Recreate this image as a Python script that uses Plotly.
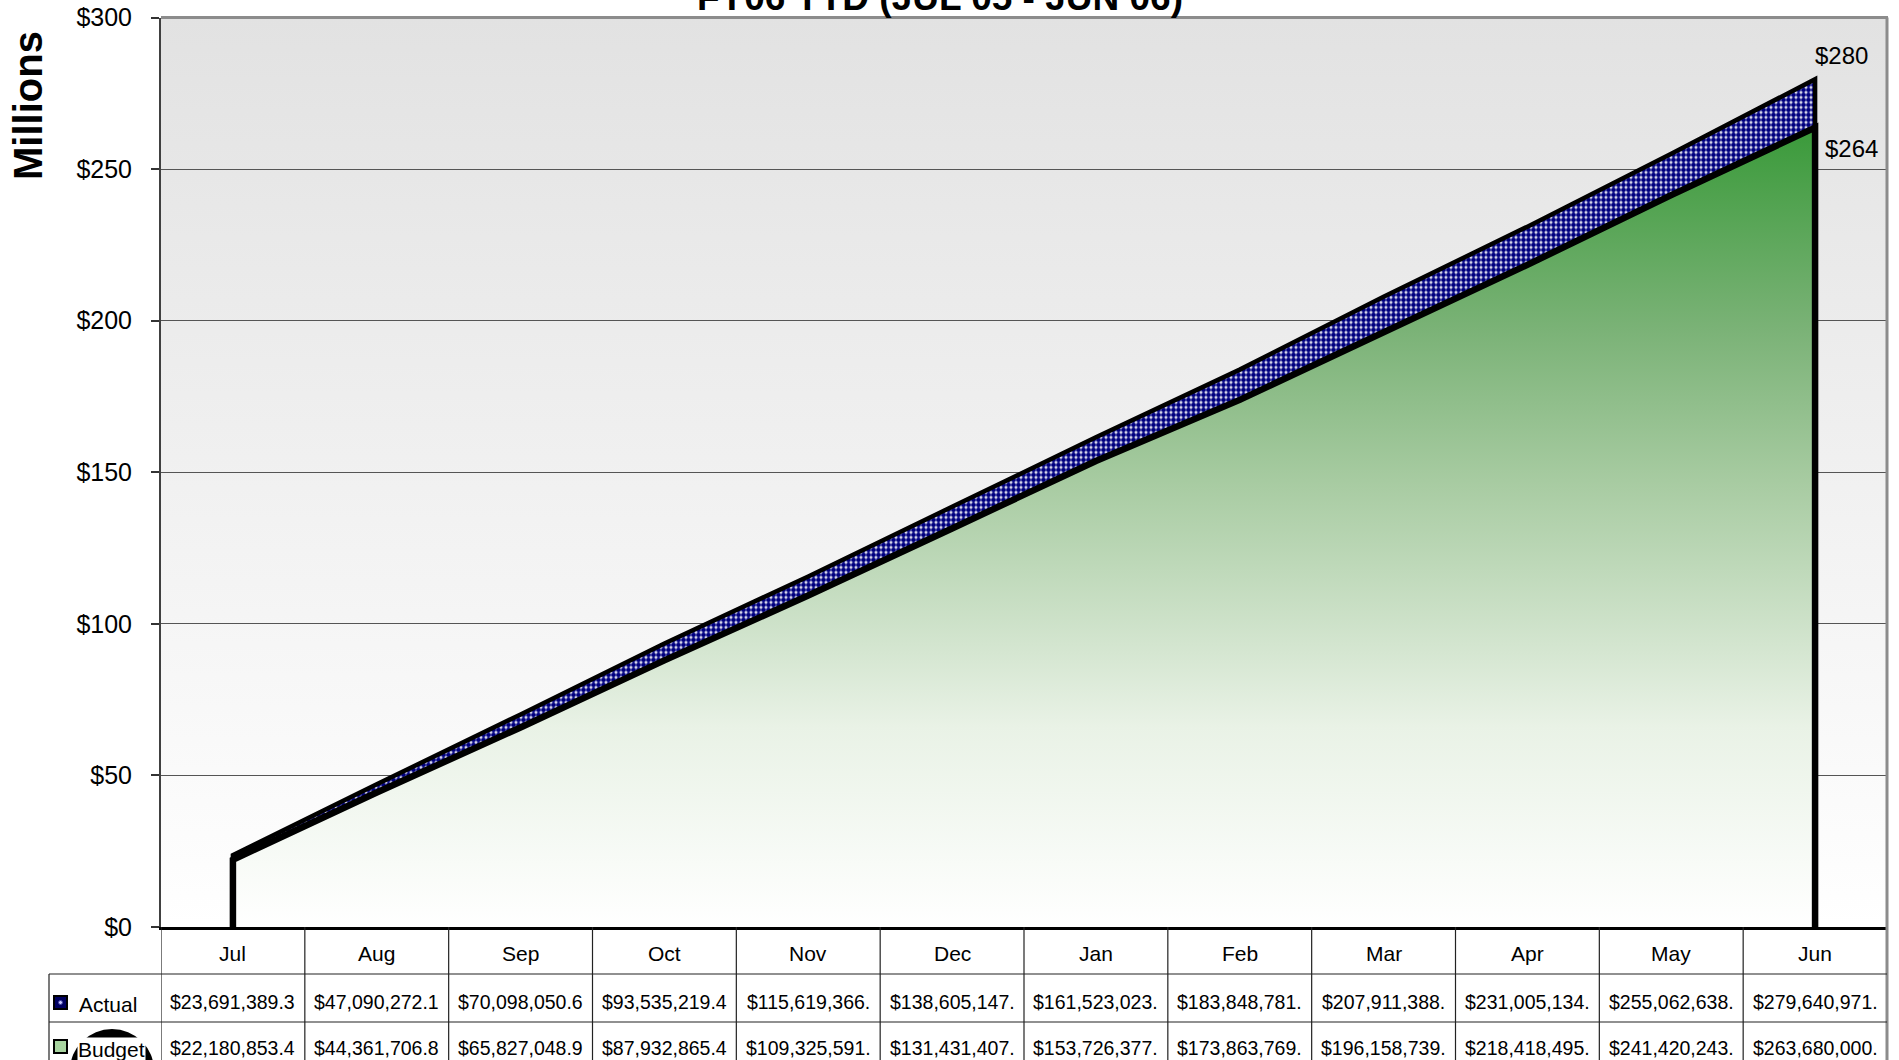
import base64
import plotly.graph_objects as go

W, H = 1899, 1060

# ---------------- data ----------------
months = ["Jul", "Aug", "Sep", "Oct", "Nov", "Dec", "Jan", "Feb", "Mar", "Apr", "May", "Jun"]
actual = [23691389.3, 47090272.1, 70098050.6, 93535219.4, 115619366.0, 138605147.0,
          161523023.0, 183848781.0, 207911388.0, 231005134.0, 255062638.0, 279640971.0]
budget = [22180853.4, 44361706.8, 65827048.9, 87932865.4, 109325591.0, 131431407.0,
          153726377.0, 173863769.0, 196158739.0, 218418495.0, 241420243.0, 263680000.0]
series_names = ["Actual", "Budget"]
y_ticks = [0, 50, 100, 150, 200, 250, 300]
y_tick_labels = ["$0", "$50", "$100", "$150", "$200", "$250", "$300"]
title_text = "FY06 YTD (JUL 05 - JUN 06)"
y_title = "Millions"

FONT = "Liberation Sans, Arial, sans-serif"


def px(x):
    return x / W


def py(y):
    return (H - y) / H


# plot area in pixels
PL, PR, PT, PB = 161, 1887, 17.5, 927

idx = list(range(len(months)))
act_m = [v / 1e6 for v in actual]
bud_m = [v / 1e6 for v in budget]


def fmt(v):
    return ("${:,.1f}".format(v))[:13]


fig = go.Figure()

# Actual area (checkered navy pattern), closed polygon down to zero
fig.add_trace(go.Scatter(
    x=[idx[0]] + idx + [idx[-1]],
    y=[0] + act_m + [0],
    mode="lines", fill="toself", fillcolor="white",
    fillpattern=dict(shape=".", fgcolor="#000080", bgcolor="white", size=5,
                     solidity=0.76, fgopacity=1),
    line=dict(color="black", width=4.5),
    name=series_names[0], hoverinfo="skip", showlegend=False,
))

# Budget area (green vertical gradient)
fig.add_trace(go.Scatter(
    x=[idx[0]] + idx + [idx[-1]],
    y=[0] + bud_m + [0],
    mode="lines", fill="toself",
    fillgradient=dict(type="vertical", colorscale=[
        [0.0, "#ffffff"], [0.25, "#e9f2e6"], [0.55, "#a9cca3"],
        [0.75, "#7ab276"], [1.0, "#3a9a3a"]]),
    line=dict(color="black", width=6.5),
    name=series_names[1], hoverinfo="skip", showlegend=False,
))

# background gradient image
svg = ('<svg xmlns="http://www.w3.org/2000/svg" width="100" height="100" viewBox="0 0 100 100" '
       'preserveAspectRatio="none"><defs><linearGradient id="g" x1="0" y1="0" x2="0" y2="1">'
       '<stop offset="0" stop-color="#e2e2e2"/><stop offset="1" stop-color="#ffffff"/>'
       '</linearGradient></defs><rect width="100" height="100" fill="url(#g)"/></svg>')
src = "data:image/svg+xml;base64," + base64.b64encode(svg.encode()).decode()

shapes = []
# top and right gray borders of the plot
shapes.append(dict(type="line", xref="paper", yref="paper", x0=px(PL), x1=px(PR + 1),
                   y0=py(PT), y1=py(PT), line=dict(color="#8c8c8c", width=3)))
shapes.append(dict(type="line", xref="paper", yref="paper", x0=px(PR), x1=px(PR),
                   y0=py(PT), y1=0, line=dict(color="#8c8c8c", width=3)))

# table vertical lines at category boundaries
for i in range(len(months)):
    shapes.append(dict(type="line", xref="x", yref="paper", x0=i - 0.5, x1=i - 0.5,
                       y0=py(PB), y1=0, line=dict(color="#222222", width=1.2)))
# legend column left border
shapes.append(dict(type="line", xref="paper", yref="paper", x0=px(49), x1=px(49),
                   y0=py(974), y1=0, line=dict(color="#222222", width=1.2)))
# table horizontal lines
for yy in (974, 1022):
    shapes.append(dict(type="line", xref="paper", yref="paper", x0=px(49), x1=px(PR),
                       y0=py(yy), y1=py(yy), line=dict(color="#222222", width=1.2)))

# legend icons
shapes.append(dict(type="rect", xref="paper", yref="paper", x0=px(54), x1=px(67),
                   y0=py(1009), y1=py(996), fillcolor="#000060",
                   line=dict(color="black", width=2)))
shapes.append(dict(type="circle", xref="paper", yref="paper", x0=px(58.5), x1=px(62.5),
                   y0=py(1004.5), y1=py(1000.5), fillcolor="#c8c8ff",
                   line=dict(color="#4040a0", width=1)))
shapes.append(dict(type="rect", xref="paper", yref="paper", x0=px(54), x1=px(67),
                   y0=py(1053), y1=py(1040), fillcolor="#a8d4a0",
                   line=dict(color="black", width=2)))
# black disk over the legend
shapes.append(dict(type="circle", xref="paper", yref="paper", x0=px(70), x1=px(154),
                   y0=py(1112), y1=py(1029), fillcolor="black",
                   line=dict(color="black", width=0)))

annotations = []
# title (cut off at top)
annotations.append(dict(text="<b>" + title_text + "</b>", xref="paper", yref="paper",
                        x=px(940), y=1.0, yshift=3, xanchor="center", yanchor="middle",
                        showarrow=False, font=dict(family=FONT, size=37, color="black")))
# y-axis title
annotations.append(dict(text="<b>" + y_title + "</b>", xref="paper", yref="paper",
                        x=px(28), y=py(106), textangle=-90, xanchor="center",
                        yanchor="middle", showarrow=False,
                        font=dict(family=FONT, size=40, color="black")))
# month labels and values
for i, m in enumerate(months):
    annotations.append(dict(text=m, xref="x", yref="paper", x=i, y=py(953),
                            xanchor="center", yanchor="middle", showarrow=False,
                            font=dict(family=FONT, size=21, color="black")))
    annotations.append(dict(text=fmt(actual[i]), xref="x", yref="paper", x=i, y=py(1002),
                            xanchor="center", yanchor="middle", showarrow=False,
                            font=dict(family=FONT, size=19.5, color="black")))
    annotations.append(dict(text=fmt(budget[i]), xref="x", yref="paper", x=i, y=py(1048),
                            xanchor="center", yanchor="middle", showarrow=False,
                            font=dict(family=FONT, size=19.5, color="black")))
# legend labels
annotations.append(dict(text=series_names[0], xref="paper", yref="paper", x=px(77),
                        y=py(1004), xanchor="left", yanchor="middle", showarrow=False,
                        font=dict(family=FONT, size=21, color="black")))
annotations.append(dict(text=series_names[1], xref="paper", yref="paper", x=px(77),
                        y=py(1049), xanchor="left", yanchor="middle", showarrow=False,
                        bgcolor="white", borderpad=0,
                        font=dict(family=FONT, size=21, color="black")))
# end-point data labels
annotations.append(dict(text="${:.0f}".format(act_m[-1]), xref="x", yref="y",
                        x=idx[-1], y=act_m[-1], xshift=26, yshift=24, showarrow=False,
                        font=dict(family=FONT, size=24, color="black")))
annotations.append(dict(text="${:.0f}".format(bud_m[-1]), xref="x", yref="y",
                        x=idx[-1], y=bud_m[-1], xshift=36, yshift=-21, showarrow=False,
                        font=dict(family=FONT, size=24, color="black")))

fig.update_layout(
    width=W, height=H,
    margin=dict(l=0, r=0, t=0, b=0, pad=0, autoexpand=False),
    paper_bgcolor="white",
    plot_bgcolor="rgba(0,0,0,0)",
    showlegend=False,
    shapes=shapes,
    annotations=annotations,
    images=[dict(source=src, xref="paper", yref="paper", x=px(PL), y=py(PT),
                 sizex=px(PR) - px(PL), sizey=py(PT) - py(PB), sizing="stretch",
                 xanchor="left", yanchor="top", layer="below")],
    xaxis=dict(domain=[px(PL), px(PR)], range=[-0.5, len(months) - 0.5],
               showticklabels=False, showgrid=False, zeroline=False, ticks="",
               automargin=False,
               showline=True, linecolor="black", linewidth=3, fixedrange=True),
    yaxis=dict(domain=[py(PB), py(PT)], range=[0, 300], tickvals=y_ticks,
               ticktext=y_tick_labels, ticks="outside", ticklen=8, tickwidth=1.5,
               tickcolor="#333333", ticklabelstandoff=14, automargin=False,
               showgrid=True, gridcolor="#555555", gridwidth=1, zeroline=False,
               showline=True, linecolor="#404040", linewidth=2,
               tickfont=dict(family=FONT, size=25, color="black"), fixedrange=True),
)

fig.write_html(
    "out.html",
    config={"displayModeBar": False},
    post_script="document.body.style.margin='0';document.body.style.overflow='hidden';",
)
